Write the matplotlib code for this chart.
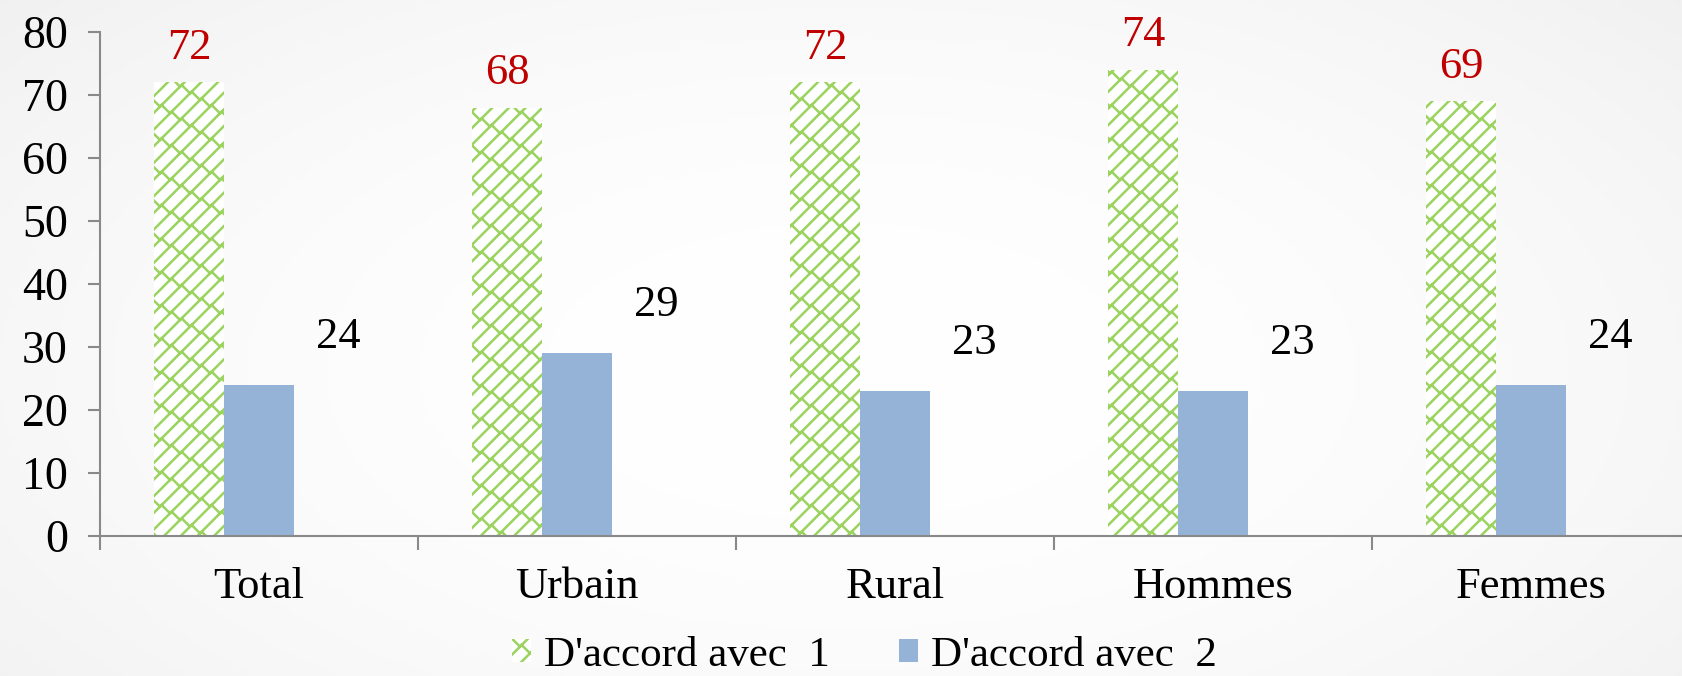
import warnings
import numpy as np
import matplotlib
matplotlib.use("Agg")
import matplotlib.pyplot as plt
import matplotlib.hatch as mhatch
from matplotlib.path import Path
from matplotlib.patches import Patch

warnings.filterwarnings("ignore")

categories = ["Total", "Urbain", "Rural", "Hommes", "Femmes"]
series1 = [72, 68, 72, 74, 69]
series2 = [24, 29, 23, 23, 24]
legend_labels = ["D'accord avec  1", "D'accord avec  2"]
yticks = [0, 10, 20, 30, 40, 50, 60, 70, 80]


class BrickHatch(mhatch.HatchPatternBase):
    """Diagonal brick pattern (like Office 'wide upward diagonal brick')."""

    def __init__(self, hatch, density):
        segs = []
        if 'b' in hatch:
            n = 6   # diagonal lines per hatch cell
            m = 5   # connectors per gap per cell
            for k in range(-2 * n, 2 * n + 1):
                c = k / n
                segs.append(((-1.0, -1.0 + c), (2.0, 2.0 + c)))
            d = 1.0 / (2 * n)
            for k in range(n):
                c = k / n
                for j in range(m):
                    t = (j + 0.5 * (k % 2)) / m
                    for dx in (-1, 0, 1):
                        for dy in (-2, -1, 0, 1):
                            x0, y0 = t + dx, t + c + dy
                            segs.append(((x0, y0), (x0 - d, y0 + d)))
        self.segs = np.array(segs, dtype=float).reshape(-1, 2) if segs else np.empty((0, 2))
        self.num_vertices = len(self.segs)

    def set_vertices_and_codes(self, vertices, codes):
        vertices[:] = self.segs
        codes[0::2] = Path.MOVETO
        codes[1::2] = Path.LINETO


mhatch._hatch_types.append(BrickHatch)

plt.rcParams['font.family'] = ['Liberation Serif', 'DejaVu Serif']
plt.rcParams['hatch.color'] = '#9ad35e'
plt.rcParams['hatch.linewidth'] = 1.8

W, H = 1682, 676
fig = plt.figure(figsize=(W / 100, H / 100), dpi=100)

# subtle radial background gradient
bg = fig.add_axes([0, 0, 1, 1], zorder=-10)
yy, xx = np.mgrid[0:1:200j, 0:1:400j]
r = np.sqrt(((xx - 0.5) / 0.6) ** 2 + ((yy - 0.55) / 0.75) ** 2)
vals = 1.0 - 0.045 * np.clip(r, 0, 1.2) ** 2
bg.imshow(np.dstack([vals, vals, vals]), aspect='auto', extent=[0, 1, 0, 1])
bg.axis('off')

left = 100 / W
bottom = (H - 536) / H
top = (H - 32) / H
width = 318 * 5 / W
ax = fig.add_axes([left, bottom, width, top - bottom])
ax.patch.set_alpha(0)

x = np.arange(len(categories))
bw = 0.22
ax.bar(x - bw, series1, width=bw, color='white', edgecolor='#9ad35e',
       hatch='b', linewidth=0, zorder=2)
ax.bar(x, series2, width=bw, color='#95b3d7', linewidth=0, zorder=2)

for xi, v in zip(x, series1):
    ax.text(xi - bw, v + 5.5, str(v), ha='center', va='center',
            fontsize=32, color='#c00000')
for xi, v in zip(x, series2):
    ax.text(xi + 0.25, v + 7.6, str(v), ha='center', va='center',
            fontsize=32, color='black')

ax.set_xlim(-0.5, len(categories) - 0.5)
ax.set_ylim(0, 80)
ax.set_yticks(yticks)
ax.set_yticklabels([str(t) for t in yticks], fontsize=33)
ax.set_xticks(x)
ax.set_xticklabels(categories, fontsize=32)
ax.set_xticks(np.arange(len(categories) + 1) - 0.5, minor=True)
ax.tick_params(axis='x', which='major', length=0, pad=22)
ax.tick_params(axis='x', which='minor', length=10, width=1.5, color='#898989',
               direction='out')
ax.tick_params(axis='y', length=9, width=1.5, color='#898989', pad=14)

for s in ['top', 'right']:
    ax.spines[s].set_visible(False)
for s in ['left', 'bottom']:
    ax.spines[s].set_color('#898989')
    ax.spines[s].set_linewidth(1.5)

handles = [Patch(facecolor='white', edgecolor='#9ad35e', hatch='b', linewidth=0),
           Patch(facecolor='#95b3d7', linewidth=0)]
fig.legend(handles, legend_labels, loc='center', bbox_to_anchor=(0.514, (H - 656) / H),
           ncol=2, frameon=False, fontsize=31, handlelength=0.45, handleheight=0.45,
           handletextpad=0.3, columnspacing=1.6)

fig.savefig('out.png', dpi=100)
